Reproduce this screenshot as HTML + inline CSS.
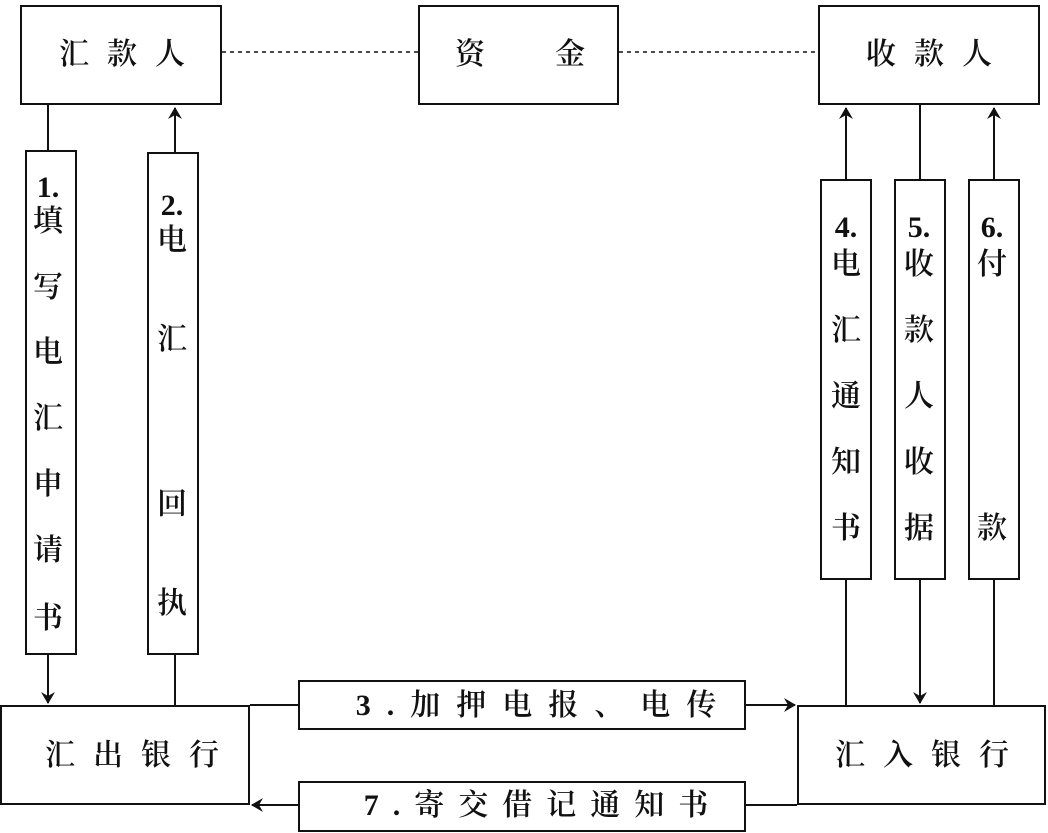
<!DOCTYPE html>
<html><head><meta charset="utf-8"><style>
body{margin:0;width:1048px;height:833px;background:#fff;position:relative;overflow:hidden;font-family:"Liberation Serif","Noto Serif CJK SC",serif;color:#111}
.b{position:absolute;border:2px solid #111;box-sizing:border-box}
.t{position:absolute;font-size:30px;line-height:1;transform:translate(-50%,-50%);white-space:nowrap;font-weight:600}
svg{position:absolute;left:0;top:0}
</style></head><body>
<svg width="1048" height="833">
<defs><marker id="a" markerWidth="12" markerHeight="18" refX="11" refY="9" orient="auto" markerUnits="userSpaceOnUse"><path d="M0,2 L12,9 L0,16 L4,9Z" fill="#111"/></marker></defs>
<g stroke="#111" stroke-width="2" fill="none">
<line x1="222" y1="52" x2="418" y2="52" stroke-dasharray="4,4" stroke-width="1.5"/>
<line x1="619" y1="52" x2="818" y2="52" stroke-dasharray="4,4" stroke-width="1.5"/>
<line x1="48" y1="105" x2="48" y2="150"/>
<line x1="48" y1="655" x2="48" y2="703" marker-end="url(#a)"/>
<line x1="175" y1="152" x2="175" y2="108" marker-end="url(#a)"/>
<line x1="175" y1="655" x2="175" y2="705"/>
<line x1="846" y1="179" x2="846" y2="108" marker-end="url(#a)"/>
<line x1="846" y1="580" x2="846" y2="705"/>
<line x1="920" y1="105" x2="920" y2="179"/>
<line x1="920" y1="580" x2="920" y2="703" marker-end="url(#a)"/>
<line x1="994" y1="179" x2="994" y2="108" marker-end="url(#a)"/>
<line x1="994" y1="580" x2="994" y2="705"/>
<line x1="250" y1="705" x2="298" y2="705"/>
<line x1="746" y1="705" x2="795" y2="705" marker-end="url(#a)"/>
<line x1="797" y1="805" x2="746" y2="805"/>
<line x1="298" y1="805" x2="252" y2="805" marker-end="url(#a)"/>
</g></svg>
<div class="b" style="left:20px;top:5px;width:202px;height:100px"></div>
<div class="b" style="left:418px;top:5px;width:201px;height:100px"></div>
<div class="b" style="left:818px;top:5px;width:222px;height:100px"></div>
<div class="b" style="left:25px;top:150px;width:52px;height:505px"></div>
<div class="b" style="left:147px;top:152px;width:52px;height:503px"></div>
<div class="b" style="left:820px;top:179px;width:52px;height:401px"></div>
<div class="b" style="left:894px;top:179px;width:52px;height:401px"></div>
<div class="b" style="left:968px;top:179px;width:52px;height:401px"></div>
<div class="b" style="left:0;top:705px;width:250px;height:100px"></div>
<div class="b" style="left:797px;top:705px;width:249px;height:100px"></div>
<div class="b" style="left:298px;top:680px;width:448px;height:50px"></div>
<div class="b" style="left:298px;top:781px;width:448px;height:51px"></div>

<div class="t" style="left:122px;top:55px;letter-spacing:18px;padding-left:18px">汇款人</div>
<div class="t" style="left:520px;top:55px;letter-spacing:70px;padding-left:70px">资金</div>
<div class="t" style="left:929px;top:55px;letter-spacing:18px;padding-left:18px">收款人</div>
<div class="t" style="left:132px;top:756px;letter-spacing:18px;padding-left:18px">汇出银行</div>
<div class="t" style="left:922px;top:756px;letter-spacing:18px;padding-left:18px">汇入银行</div>
<div class="t" style="left:536px;top:706px;letter-spacing:16px;padding-left:16px">3.加押电报、电传</div>
<div class="t" style="left:536px;top:806px;letter-spacing:14px;padding-left:14px">7.寄交借记通知书</div>

<div class="t" style="left:48px;top:188px">1.</div>
<div class="t" style="left:48px;top:222px">填</div><div class="t" style="left:48px;top:288px">写</div><div class="t" style="left:48px;top:353px">电</div><div class="t" style="left:48px;top:419px">汇</div><div class="t" style="left:48px;top:485px">申</div><div class="t" style="left:48px;top:551px">请</div><div class="t" style="left:48px;top:619px">书</div>
<div class="t" style="left:172px;top:206px">2.</div>
<div class="t" style="left:172px;top:241px">电</div><div class="t" style="left:172px;top:340px">汇</div><div class="t" style="left:172px;top:505px">回</div><div class="t" style="left:172px;top:604px">执</div>
<div class="t" style="left:846px;top:228px">4.</div>
<div class="t" style="left:846px;top:265px">电</div><div class="t" style="left:846px;top:331px">汇</div><div class="t" style="left:846px;top:397px">通</div><div class="t" style="left:846px;top:463px">知</div><div class="t" style="left:846px;top:529px">书</div>
<div class="t" style="left:919px;top:228px">5.</div>
<div class="t" style="left:919px;top:265px">收</div><div class="t" style="left:919px;top:331px">款</div><div class="t" style="left:919px;top:397px">人</div><div class="t" style="left:919px;top:463px">收</div><div class="t" style="left:919px;top:529px">据</div>
<div class="t" style="left:992px;top:228px">6.</div>
<div class="t" style="left:992px;top:265px">付</div><div class="t" style="left:992px;top:529px">款</div>
</body></html>
